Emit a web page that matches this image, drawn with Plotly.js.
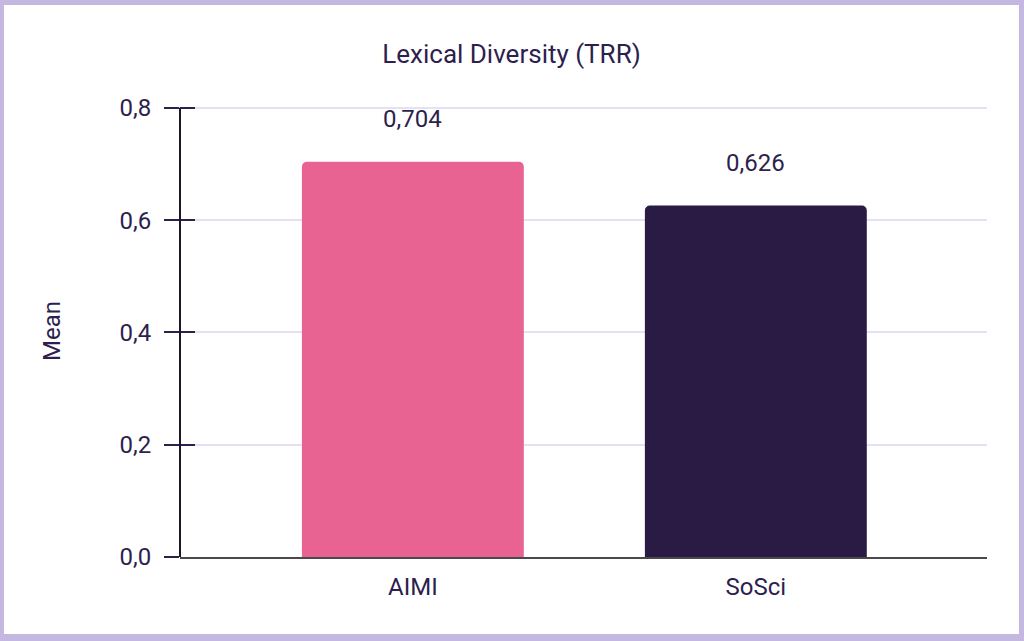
<!DOCTYPE html>
<html>
<head>
<meta charset="utf-8">
<script src="https://cdn.plot.ly/plotly-3.0.1.min.js"></script>
<style>
  html, body { margin: 0; padding: 0; background: #c5b8e0; }
  #frame {
    position: absolute; left: 0; top: 0; width: 1024px; height: 641px;
    background: #c5b8e0;
  }
  #chart {
    position: absolute; left: 4px; top: 5px; width: 1015px; height: 629px;
    background: #ffffff;
  }
</style>
</head>
<body>
<div id="frame"><div id="chart"></div></div>
<script>
const categories = ["AIMI", "SoSci"];
const meanValues = [0.704, 0.626];
const yTickValues = [0, 0.2, 0.4, 0.6, 0.8];

const barColors = ["#e96392", "#2a1b45"];
const textColor = "#2d1f4e";
const fontFamily = "Roboto, 'Noto Sans', sans-serif";

// decimal comma, as in the reference
const fmt = (v) => v.toFixed(3).replace(".", ",");

const bars = {
  type: "bar",
  x: categories,
  y: meanValues,
  width: 0.647,
  marker: { color: barColors, line: { width: 0 } },
  hoverinfo: "skip",
};

const labels = categories.map((cat, i) => ({
  x: cat,
  y: meanValues[i],
  xref: "x",
  yref: "y",
  text: fmt(meanValues[i]),
  showarrow: false,
  yanchor: "middle",
  yshift: 43,
  font: { family: fontFamily, size: 24, color: textColor },
}));

// a little headroom above 0,8 so its gridline is still drawn
const yRange = [0, 0.805];
const yTop = yTickValues[yTickValues.length - 1];

const layout = {
  width: 1015,
  height: 629,
  margin: { l: 176, r: 32, t: 100, b: 77 },
  paper_bgcolor: "#ffffff",
  plot_bgcolor: "#ffffff",
  separators: ",.",
  font: { family: fontFamily, size: 24, color: textColor },
  showlegend: false,
  barcornerradius: 5,
  title: {
    text: "Lexical Diversity (TRR)",
    xref: "container",
    x: 0.5,
    xanchor: "center",
    yref: "container",
    y: 1 - 49 / 629,
    yanchor: "middle",
    font: { family: fontFamily, size: 26, color: textColor },
  },
  xaxis: {
    type: "category",
    range: [-0.679, 1.674],
    showline: true,
    linecolor: "#4a4a4a",
    linewidth: 2,
    ticks: "",
    showgrid: false,
    zeroline: false,
    ticklabelstandoff: 7,
    tickfont: { family: fontFamily, size: 24, color: textColor },
  },
  yaxis: {
    range: yRange,
    tickvals: yTickValues,
    tickformat: ".1f",
    showline: false,
    ticks: "outside",
    ticklen: 15,
    tickwidth: 2,
    tickcolor: textColor,
    ticklabelstandoff: 8,
    showgrid: true,
    gridcolor: "#e6e0f3",
    gridwidth: 2,
    zeroline: false,
    tickfont: { family: fontFamily, size: 24, color: textColor },
    title: {
      text: "Mean",
      standoff: 52,
      font: { family: fontFamily, size: 24, color: textColor },
    },
  },
  // second axis only to draw the inner half of each tick mark
  yaxis2: {
    overlaying: "y",
    anchor: "x",
    side: "left",
    range: yRange,
    tickvals: yTickValues,
    ticks: "inside",
    ticklen: 15,
    tickwidth: 2,
    tickcolor: textColor,
    showticklabels: false,
    showgrid: false,
    zeroline: false,
    showline: false,
  },
  // y axis line, stopping at the top tick
  shapes: [
    {
      type: "line",
      xref: "paper",
      yref: "y",
      x0: 0,
      x1: 0,
      y0: 0,
      y1: yTop,
      line: { color: "#1c1726", width: 2 },
      layer: "above",
    },
  ],
  annotations: labels,
};

const dummy = { type: "scatter", x: [], y: [], yaxis: "y2", hoverinfo: "skip" };

Plotly.newPlot("chart", [bars, dummy], layout, { staticPlot: true });
</script>
</body>
</html>
